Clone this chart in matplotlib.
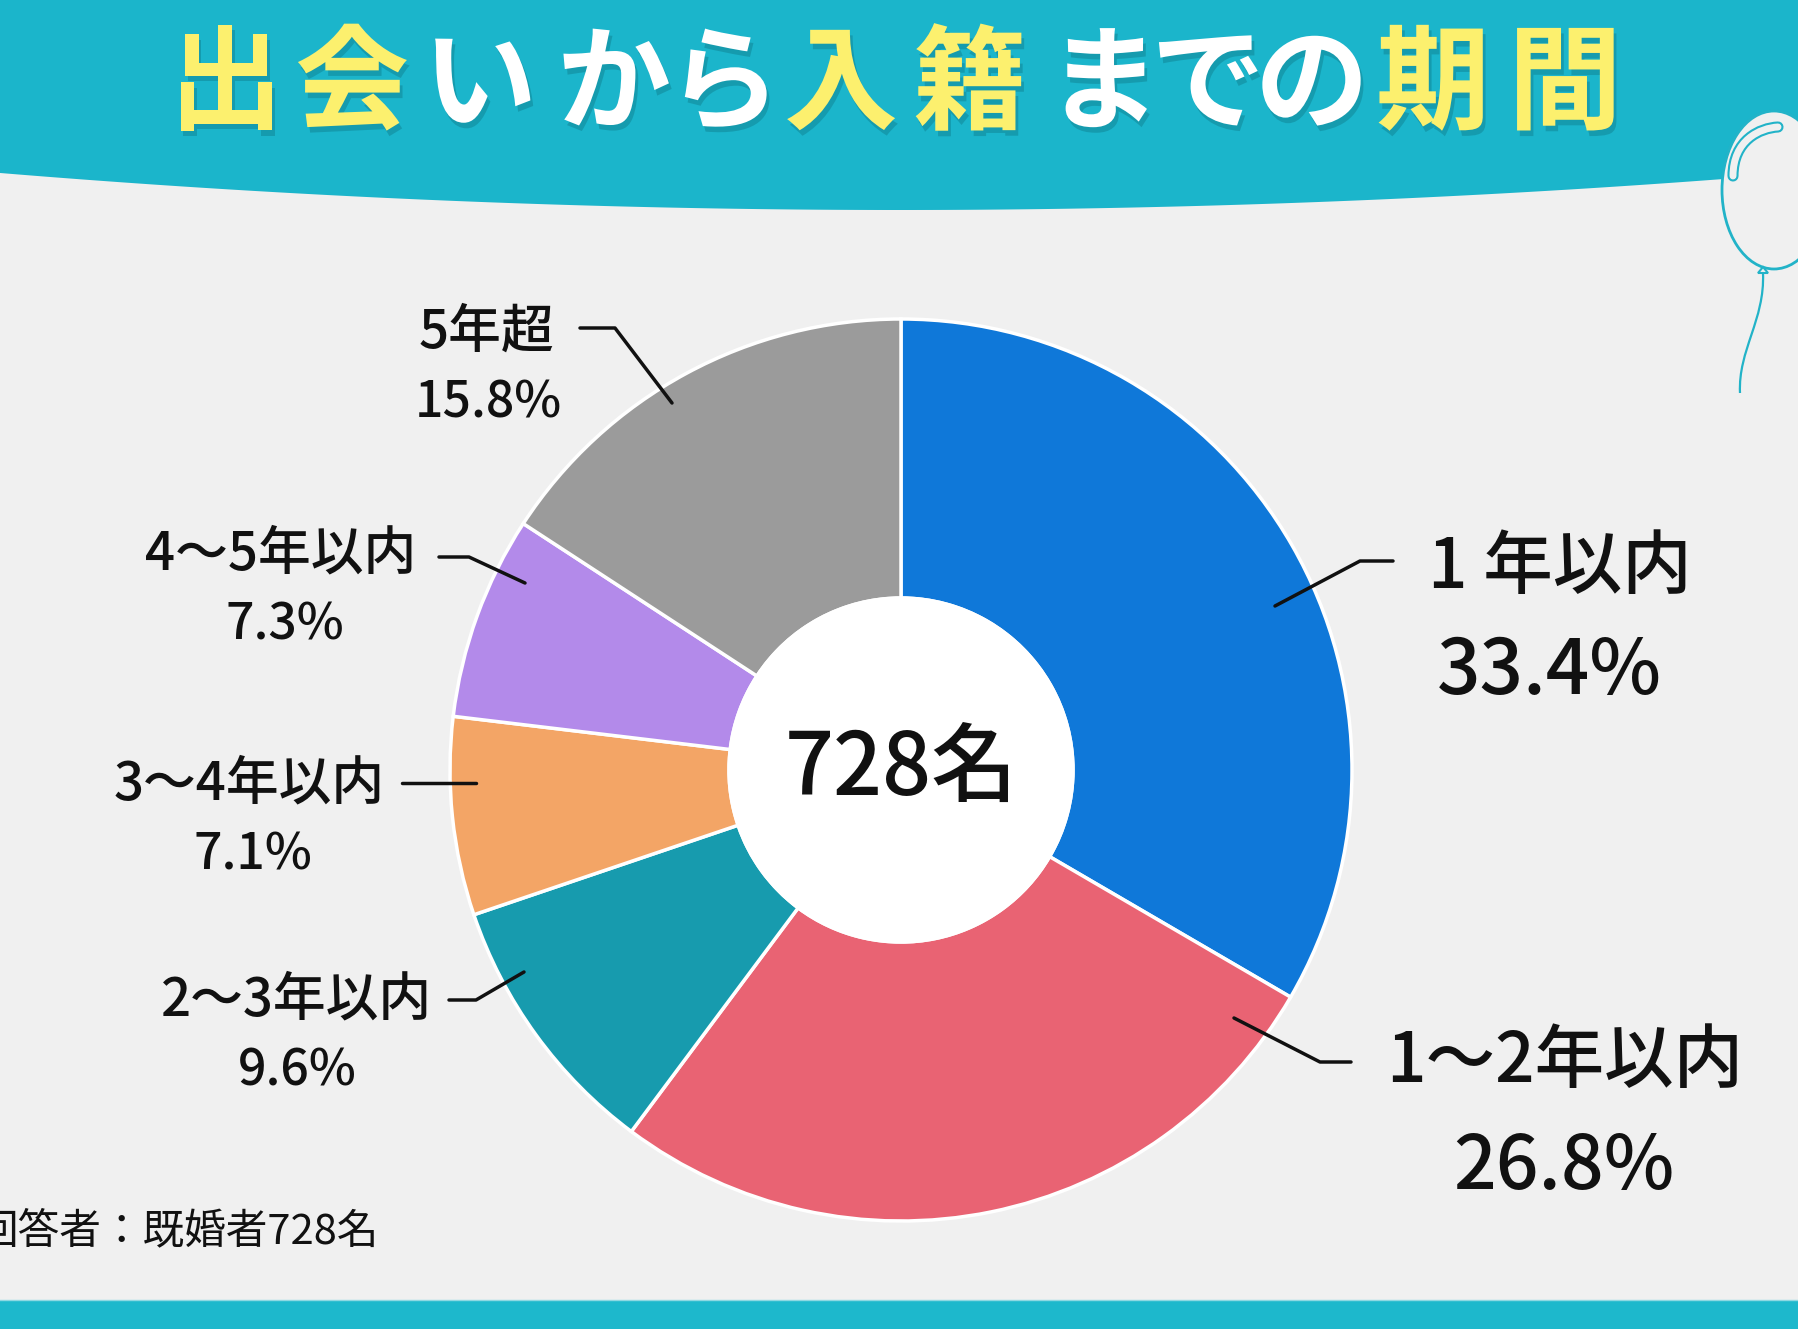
import matplotlib
matplotlib.use('Agg')
import matplotlib.pyplot as plt
import matplotlib.patheffects as pe
from matplotlib.patches import Rectangle, Circle, Ellipse, Polygon, PathPatch
from matplotlib.path import Path
import numpy as np

plt.rcParams['font.family'] = ['Noto Sans CJK JP', 'DejaVu Sans']

# データ
categories = ['1 年以内', '1〜2年以内', '2〜3年以内', '3〜4年以内', '4〜5年以内', '5年超']
shares = [33.4, 26.8, 9.6, 7.1, 7.3, 15.8]
colors = ['#0F78D9', '#E96373', '#179BAE', '#F3A566', '#B38AEA', '#9B9B9B']
total_n = 728

title_chars = list('出会いから入籍までの期間')
title_colors = ['y', 'y', 'w', 'w', 'w', 'y', 'y', 'w', 'w', 'w', 'y', 'y']

W, H = 1799, 1329
BG = '#F0F0F0'
TEAL = '#1BB5CB'

fig = plt.figure(figsize=(W / 100, H / 100), dpi=100)
fig.patch.set_facecolor(BG)
ax = fig.add_axes([0, 0, 1, 1])


def Y(y):
    # 画像座標(上から)→ 描画座標
    return H - y


# 見出しの帯 (下辺がゆるいカーブ)
xs = np.linspace(0, W, 200)
ys = 210 - 4.57e-5 * (xs - 900) ** 2
band = np.column_stack([np.r_[0, xs, W], np.r_[Y(0), Y(ys), Y(0)]])
ax.add_patch(Polygon(band, closed=True, facecolor=TEAL, edgecolor='none', zorder=1))

# 下の帯
ax.add_patch(Rectangle((0, 0), W, H - 1300, facecolor='#1DB8CC', edgecolor='none', zorder=1))
ax.plot([0, W], [Y(1300), Y(1300)], color='#8FD8E2', lw=1.0, zorder=2)

# 風船
bal_c = '#22B3C8'
ax.add_patch(Ellipse((1774, Y(190)), 104, 158, facecolor=BG, edgecolor=bal_c, lw=2, zorder=3))
hl = Path([(1733, Y(176)), (1733, Y(140)), (1760, Y(128)), (1778, Y(127))],
          [Path.MOVETO, Path.CURVE4, Path.CURVE4, Path.CURVE4])
ax.add_patch(PathPatch(hl, facecolor='none', edgecolor=bal_c, lw=8, capstyle='round', zorder=4))
ax.add_patch(PathPatch(hl, facecolor='none', edgecolor=BG, lw=5, capstyle='round', zorder=5))
ax.add_patch(Polygon([(1763, Y(267)), (1758, Y(273)), (1768, Y(273))], closed=True,
                     facecolor=BG, edgecolor=bal_c, lw=1.5, zorder=4))
string = Path([(1763, Y(273)), (1765, Y(320)), (1738, Y(350)), (1740, Y(393))],
              [Path.MOVETO, Path.CURVE4, Path.CURVE4, Path.CURVE4])
ax.add_patch(PathPatch(string, facecolor='none', edgecolor=bal_c, lw=1.6, zorder=4))

# タイトル
title_x = [226, 352, 480, 614, 724, 841, 970, 1104, 1208, 1312, 1433, 1565]
shadow = [pe.SimplePatchShadow(offset=(2, -4), shadow_rgbFace='#0B6C79', alpha=0.35), pe.Normal()]
for ch, c, x in zip(title_chars, title_colors, title_x):
    ax.text(x, Y(87), ch, fontsize=82, fontweight='bold', ha='center', va='center',
            color='#FCF06E' if c == 'y' else 'white', path_effects=shadow, zorder=6)

# ドーナツグラフ
cx, cy, R, r_in = 901, Y(770), 451, 172
ax.pie(shares, colors=colors, startangle=90, counterclock=False, center=(cx, cy), radius=R,
       wedgeprops=dict(width=R - r_in, edgecolor='white', linewidth=2.5))
for w in ax.patches[-len(shares):]:
    w.set_zorder(3)
ax.add_patch(Circle((cx, cy), r_in + 1, facecolor='white', edgecolor='white', zorder=4))
ax.text(cx, cy, f'{total_n}名', fontsize=62, fontweight='medium', ha='center', va='center',
        color='#111111', zorder=5)

# ラベルと引き出し線
label_pos = [(1560, 568), (1565, 1062), (297, 1000), (249, 784), (281, 554), (486, 333)]
pct_pos = [(1549, 672), (1564, 1168), (297, 1072), (253, 856), (285, 625), (488, 404)]
label_size = [50, 50, 38, 38, 38, 38]
pct_size = [55, 54, 36, 36, 36, 36]
leaders = [
    [(1275, 606), (1360, 561), (1393, 561)],
    [(1234, 1018), (1320, 1062), (1351, 1062)],
    [(524, 972), (476, 1000), (449, 1000)],
    [(476, 783), (402, 783)],
    [(525, 583), (469, 557), (439, 557)],
    [(672, 403), (615, 328), (580, 328)],
]
for i, (lab, val) in enumerate(zip(categories, shares)):
    lx, ly = label_pos[i]
    px, py = pct_pos[i]
    ax.text(lx, Y(ly), lab, fontsize=label_size[i], fontweight='medium',
            ha='center', va='center', color='#111111', zorder=6)
    ax.text(px, Y(py), f'{val:.1f}%', fontsize=pct_size[i], fontweight='medium',
            ha='center', va='center', color='#111111', zorder=6)
    pts = np.array(leaders[i], dtype=float)
    ax.plot(pts[:, 0], H - pts[:, 1], color='#111111', lw=2.5, zorder=6,
            solid_capstyle='round', solid_joinstyle='round')

# 注記
ax.text(-23, Y(1232), f'回答者：既婚者{total_n}名', fontsize=30, ha='left', va='center',
        color='#111111', zorder=6)

ax.set_xlim(0, W)
ax.set_ylim(0, H)
ax.set_aspect('auto')
ax.axis('off')

fig.savefig('out.png', dpi=100, facecolor=BG)
